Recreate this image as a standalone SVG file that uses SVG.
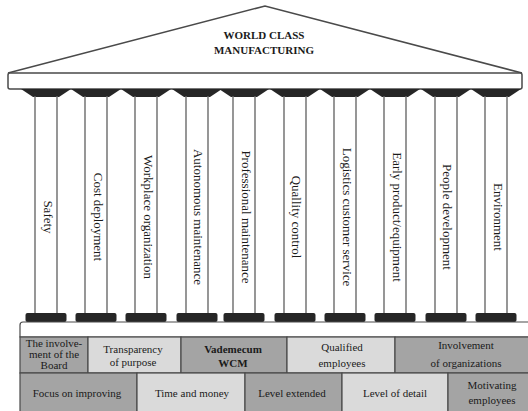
<svg xmlns="http://www.w3.org/2000/svg" width="528" height="411" viewBox="0 0 528 411">
<style>
.ln{fill:none;stroke:#4a4a4a;stroke-width:1.5}
.shaft{stroke:#6a6a6a;stroke-width:1.4}
.cap{fill:#262626}
.base{fill:#262626}
.dk{fill:#a4a4a4;stroke:#4a4a4a;stroke-width:1.2}
.lt{fill:#dadada;stroke:#4a4a4a;stroke-width:1.2}
.t{font-family:"Liberation Serif","Times New Roman",serif;fill:#1a1a1a;text-anchor:middle}
.p{font-size:13px;dominant-baseline:central}
.b{font-size:11px}
.title{font-size:11px;font-weight:bold}
</style>
<defs>
<g id="col">
<path class="cap" d="M-25,89 L25,89 L13,97 L-13,97 Z"/>
<line class="shaft" x1="-11" y1="96" x2="-11" y2="313"/>
<line class="shaft" x1="11" y1="96" x2="11" y2="313"/>
<rect class="base" x="-20.5" y="313" width="41" height="9" rx="2"/>
</g>
</defs>
<g id="roof">
<path class="ln" d="M8,73 L265,6 L522,73" fill="#fff"/>
<rect x="8" y="73" width="514" height="16" rx="2" fill="#fff" stroke="#4a4a4a" stroke-width="1.5"/>
<text class="t title" x="264" y="39">WORLD CLASS</text>
<text class="t title" x="264" y="54">MANUFACTURING</text>
</g>
<g id="pillars">
<g id="p1"><use href="#col" x="46"/><text class="t p" transform="translate(48,217) rotate(90)">Safety</text></g>
<g id="p2"><use href="#col" x="96"/><text class="t p" transform="translate(98,217) rotate(90)">Cost deployment</text></g>
<g id="p3"><use href="#col" x="146"/><text class="t p" transform="translate(148,217) rotate(90)">Workplace organization</text></g>
<g id="p4"><use href="#col" x="197"/><text class="t p" transform="translate(198,217) rotate(90)">Autonomous maintenance</text></g>
<g id="p5"><use href="#col" x="244"/><text class="t p" transform="translate(246,217) rotate(90)">Professional maintenance</text></g>
<g id="p6"><use href="#col" x="295"/><text class="t p" transform="translate(296,217) rotate(90)">Quallity control</text></g>
<g id="p7"><use href="#col" x="345"/><text class="t p" transform="translate(347,217) rotate(90)">Logistics customer service</text></g>
<g id="p8"><use href="#col" x="395"/><text class="t p" transform="translate(397,217) rotate(90)">Early product/equipment</text></g>
<g id="p9"><use href="#col" x="446"/><text class="t p" transform="translate(447,217) rotate(90)">People development</text></g>
<g id="p10"><use href="#col" x="496"/><text class="t p" transform="translate(498,217) rotate(90)">Environment</text></g>
</g>
<g id="platform">
<path d="M20,337 L20,325 Q20,322 23,322 L529,322 L529,337 Z" fill="#fff" stroke="#4a4a4a" stroke-width="1.2"/>
</g>
<g id="row1">
<g id="c11"><rect class="dk" x="20" y="337" width="68" height="36"/>
<text class="t b" x="54" y="347">The involve-</text><text class="t b" x="54" y="358">ment of the</text><text class="t b" x="54" y="369">Board</text></g>
<g id="c12"><rect class="lt" x="88" y="337" width="93" height="36"/>
<text class="t b" x="133" y="353">Transparency</text><text class="t b" x="133" y="366">of purpose</text></g>
<g id="c13"><rect class="dk" x="181" y="337" width="106" height="36"/>
<text class="t b" x="233" y="353" font-weight="bold">Vademecum</text><text class="t b" x="233" y="367" font-weight="bold">WCM</text></g>
<g id="c14"><rect class="lt" x="287" y="337" width="108" height="36"/>
<text class="t b" x="342" y="351">Qualified</text><text class="t b" x="342" y="367">employees</text></g>
<g id="c15"><rect class="dk" x="395" y="337" width="134" height="36"/>
<text class="t b" x="466" y="349">Involvement</text><text class="t b" x="466" y="367">of organizations</text></g>
</g>
<g id="row2">
<g id="c21"><rect class="dk" x="20" y="373" width="117" height="39"/>
<text class="t b" x="77" y="397">Focus on improving</text></g>
<g id="c22"><rect class="lt" x="137" y="373" width="108" height="39"/>
<text class="t b" x="192" y="397">Time and money</text></g>
<g id="c23"><rect class="dk" x="245" y="373" width="97" height="39"/>
<text class="t b" x="292" y="397">Level extended</text></g>
<g id="c24"><rect class="lt" x="342" y="373" width="106" height="39"/>
<text class="t b" x="395" y="397">Level of detail</text></g>
<g id="c25"><rect class="dk" x="448" y="373" width="81" height="39"/>
<text class="t b" x="492" y="389">Motivating</text><text class="t b" x="492" y="404">employees</text></g>
</g>
<g id="connectors"/>
</svg>
